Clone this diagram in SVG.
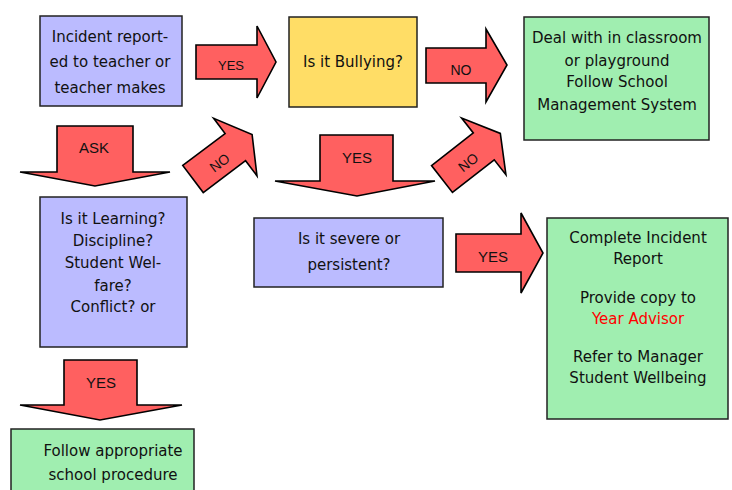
<svg xmlns="http://www.w3.org/2000/svg" width="732" height="490" viewBox="0 0 732 490">
<defs>
<style>
.purple{fill:#bbbbff;stroke:#222;stroke-width:1.5}
.yellow{fill:#ffdd66;stroke:#222;stroke-width:1.5}
.green{fill:#a0eeb0;stroke:#222;stroke-width:1.5}
.arrow{fill:#ff6060;stroke:#000;stroke-width:1.6;stroke-linejoin:miter}
text{font-family:"DejaVu Sans","Liberation Sans",sans-serif;font-size:15px;fill:#111;text-anchor:middle}
.lbl{font-family:"Liberation Sans",Arial,sans-serif;font-size:14px}
.red{fill:#ff0000}
</style>
</defs>
<rect width="732" height="490" fill="#ffffff"/>

<g id="incident">
<rect class="purple" x="40" y="16" width="142" height="90"/>
<text x="110" y="42">Incident report-</text>
<text x="110" y="67">ed to teacher or</text>
<text x="110" y="93">teacher makes</text>
</g>

<g id="bullying">
<rect class="yellow" x="289" y="17" width="128" height="90"/>
<text x="353" y="67">Is it Bullying?</text>
</g>

<g id="deal">
<rect class="green" x="524" y="17" width="185" height="123"/>
<text x="617" y="43">Deal with in classroom</text>
<text x="617" y="66">or playground</text>
<text x="617" y="87">Follow School</text>
<text x="617" y="110">Management System</text>
</g>

<g id="learning">
<rect class="purple" x="40" y="197" width="147" height="150"/>
<text x="113" y="224">Is it Learning?</text>
<text x="113" y="246">Discipline?</text>
<text x="113" y="268">Student Wel-</text>
<text x="113" y="291">fare?</text>
<text x="113" y="312">Conflict? or</text>
</g>

<g id="severe">
<rect class="purple" x="254" y="218" width="189" height="69"/>
<text x="349" y="244">Is it severe or</text>
<text x="349" y="270">persistent?</text>
</g>

<g id="report">
<rect class="green" x="547" y="218" width="181" height="201"/>
<text x="638" y="243">Complete Incident</text>
<text x="638" y="264">Report</text>
<text x="638" y="303">Provide copy to</text>
<text x="638" y="324" class="red">Year Advisor</text>
<text x="638" y="362">Refer to Manager</text>
<text x="638" y="383">Student Wellbeing</text>
</g>

<g id="procedure">
<rect class="green" x="11" y="429" width="183" height="70"/>
<text x="113" y="456">Follow appropriate</text>
<text x="113" y="480">school procedure</text>
</g>

<g id="connectors">
<g id="yes-top">
<polygon class="arrow" points="196,45 257,45 257,26 276,62 257,98 257,79 196,79"/>
<text class="lbl" x="231" y="70" style="font-size:13px">YES</text>
</g>
<g id="no-top">
<polygon class="arrow" points="426,48 486,48 486,29 507,65 486,102 486,83 426,83"/>
<text class="lbl" x="461" y="75">NO</text>
</g>
<g id="ask">
<polygon class="arrow" points="57,126 133,126 133,172 170,172 95,186 20,172 57,172"/>
<text class="lbl" x="94" y="153" style="font-size:15px">ASK</text>
</g>
<g id="no-left" transform="translate(193,179) rotate(-37)">
<polygon class="arrow" points="0,-17 53,-17 53,-36 74,0 53,36 53,17 0,17"/>
<text class="lbl" x="31" y="8">NO</text>
</g>
<g id="yes-mid">
<polygon class="arrow" points="320,135 393,135 393,181 435,181 357,196 275,181 320,181"/>
<text class="lbl" x="357" y="163" style="font-size:15px">YES</text>
</g>
<g id="no-right" transform="translate(442,179) rotate(-38)">
<polygon class="arrow" points="0,-17 53,-17 53,-36 74,0 53,36 53,17 0,17"/>
<text class="lbl" x="31" y="8">NO</text>
</g>
<g id="yes-right">
<polygon class="arrow" points="456,234 521,234 521,213 543,253 521,293 521,272 456,272"/>
<text class="lbl" x="493" y="262" style="font-size:15px">YES</text>
</g>
<g id="yes-bottom">
<polygon class="arrow" points="64,360 137,360 137,405 182,405 100,420 20,405 64,405"/>
<text class="lbl" x="101" y="388" style="font-size:15px">YES</text>
</g>
</g>
</svg>
